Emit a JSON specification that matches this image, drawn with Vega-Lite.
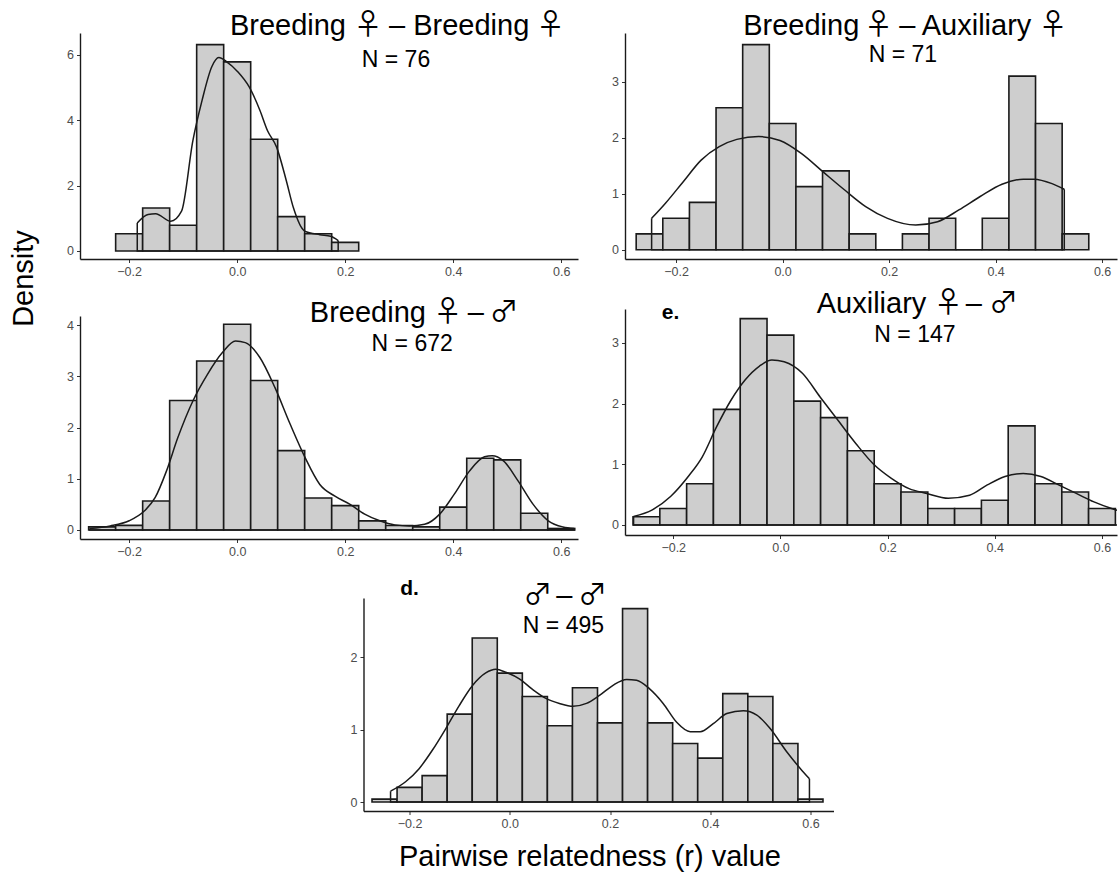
{
"$schema": "https://vega.github.io/schema/vega-lite/v6.json",
"padding": {"left": 9, "top": 12, "right": 2, "bottom": 2},
"background": "white",
"title": {"text": "Density", "orient": "left", "anchor": "middle", "fontSize": 29, "fontWeight": "normal", "font": "Liberation Sans", "color": "#000000", "offset": 28, "dx": 163},
"config": {
  "view": {"stroke": null},
  "font": "Liberation Sans",
  "axis": {"grid": false, "domainColor": "#1a1a1a", "domainWidth": 1.4, "tickColor": "#333333", "tickWidth": 1, "tickSize": 3.5, "labelFont": "Liberation Sans", "labelFontSize": 12.5, "labelColor": "#4d4d4d", "labelPadding": 3, "titleFont": "Liberation Sans", "titleFontSize": 29, "titleFontWeight": "normal", "titleColor": "#000000"}
},
"datasets": {
  "bars": [
    {"panel":"p1","r":-0.225,"r_end":-0.175,"density":0.526},
    {"panel":"p1","r":-0.175,"r_end":-0.125,"density":1.316},
    {"panel":"p1","r":-0.125,"r_end":-0.075,"density":0.789},
    {"panel":"p1","r":-0.075,"r_end":-0.025,"density":6.316},
    {"panel":"p1","r":-0.025,"r_end":0.025,"density":5.789},
    {"panel":"p1","r":0.025,"r_end":0.075,"density":3.421},
    {"panel":"p1","r":0.075,"r_end":0.125,"density":1.053},
    {"panel":"p1","r":0.125,"r_end":0.175,"density":0.526},
    {"panel":"p1","r":0.175,"r_end":0.225,"density":0.263},

    {"panel":"p2","r":-0.275,"r_end":-0.225,"density":0.282},
    {"panel":"p2","r":-0.225,"r_end":-0.175,"density":0.563},
    {"panel":"p2","r":-0.175,"r_end":-0.125,"density":0.845},
    {"panel":"p2","r":-0.125,"r_end":-0.075,"density":2.535},
    {"panel":"p2","r":-0.075,"r_end":-0.025,"density":3.662},
    {"panel":"p2","r":-0.025,"r_end":0.025,"density":2.254},
    {"panel":"p2","r":0.025,"r_end":0.075,"density":1.127},
    {"panel":"p2","r":0.075,"r_end":0.125,"density":1.408},
    {"panel":"p2","r":0.125,"r_end":0.175,"density":0.282},
    {"panel":"p2","r":0.175,"r_end":0.225,"density":0},
    {"panel":"p2","r":0.225,"r_end":0.275,"density":0.282},
    {"panel":"p2","r":0.275,"r_end":0.325,"density":0.563},
    {"panel":"p2","r":0.325,"r_end":0.375,"density":0},
    {"panel":"p2","r":0.375,"r_end":0.425,"density":0.563},
    {"panel":"p2","r":0.425,"r_end":0.475,"density":3.099},
    {"panel":"p2","r":0.475,"r_end":0.525,"density":2.254},
    {"panel":"p2","r":0.525,"r_end":0.575,"density":0.282},

    {"panel":"p3","r":-0.275,"r_end":-0.225,"density":0.06},
    {"panel":"p3","r":-0.225,"r_end":-0.175,"density":0.09},
    {"panel":"p3","r":-0.175,"r_end":-0.125,"density":0.565},
    {"panel":"p3","r":-0.125,"r_end":-0.075,"density":2.53},
    {"panel":"p3","r":-0.075,"r_end":-0.025,"density":3.30},
    {"panel":"p3","r":-0.025,"r_end":0.025,"density":4.02},
    {"panel":"p3","r":0.025,"r_end":0.075,"density":2.92},
    {"panel":"p3","r":0.075,"r_end":0.125,"density":1.55},
    {"panel":"p3","r":0.125,"r_end":0.175,"density":0.625},
    {"panel":"p3","r":0.175,"r_end":0.225,"density":0.476},
    {"panel":"p3","r":0.225,"r_end":0.275,"density":0.179},
    {"panel":"p3","r":0.275,"r_end":0.325,"density":0.089},
    {"panel":"p3","r":0.325,"r_end":0.375,"density":0.06},
    {"panel":"p3","r":0.375,"r_end":0.425,"density":0.446},
    {"panel":"p3","r":0.425,"r_end":0.475,"density":1.40},
    {"panel":"p3","r":0.475,"r_end":0.525,"density":1.37},
    {"panel":"p3","r":0.525,"r_end":0.575,"density":0.327},
    {"panel":"p3","r":0.575,"r_end":0.625,"density":0.03},

    {"panel":"p4","r":-0.275,"r_end":-0.225,"density":0.136},
    {"panel":"p4","r":-0.225,"r_end":-0.175,"density":0.272},
    {"panel":"p4","r":-0.175,"r_end":-0.125,"density":0.680},
    {"panel":"p4","r":-0.125,"r_end":-0.075,"density":1.905},
    {"panel":"p4","r":-0.075,"r_end":-0.025,"density":3.401},
    {"panel":"p4","r":-0.025,"r_end":0.025,"density":3.129},
    {"panel":"p4","r":0.025,"r_end":0.075,"density":2.041},
    {"panel":"p4","r":0.075,"r_end":0.125,"density":1.769},
    {"panel":"p4","r":0.125,"r_end":0.175,"density":1.224},
    {"panel":"p4","r":0.175,"r_end":0.225,"density":0.680},
    {"panel":"p4","r":0.225,"r_end":0.275,"density":0.544},
    {"panel":"p4","r":0.275,"r_end":0.325,"density":0.272},
    {"panel":"p4","r":0.325,"r_end":0.375,"density":0.272},
    {"panel":"p4","r":0.375,"r_end":0.425,"density":0.408},
    {"panel":"p4","r":0.425,"r_end":0.475,"density":1.633},
    {"panel":"p4","r":0.475,"r_end":0.525,"density":0.680},
    {"panel":"p4","r":0.525,"r_end":0.575,"density":0.544},
    {"panel":"p4","r":0.575,"r_end":0.625,"density":0.272},

    {"panel":"p5","r":-0.275,"r_end":-0.225,"density":0.04},
    {"panel":"p5","r":-0.225,"r_end":-0.175,"density":0.202},
    {"panel":"p5","r":-0.175,"r_end":-0.125,"density":0.364},
    {"panel":"p5","r":-0.125,"r_end":-0.075,"density":1.212},
    {"panel":"p5","r":-0.075,"r_end":-0.025,"density":2.263},
    {"panel":"p5","r":-0.025,"r_end":0.025,"density":1.778},
    {"panel":"p5","r":0.025,"r_end":0.075,"density":1.455},
    {"panel":"p5","r":0.075,"r_end":0.125,"density":1.051},
    {"panel":"p5","r":0.125,"r_end":0.175,"density":1.576},
    {"panel":"p5","r":0.175,"r_end":0.225,"density":1.091},
    {"panel":"p5","r":0.225,"r_end":0.275,"density":2.667},
    {"panel":"p5","r":0.275,"r_end":0.325,"density":1.091},
    {"panel":"p5","r":0.325,"r_end":0.375,"density":0.808},
    {"panel":"p5","r":0.375,"r_end":0.425,"density":0.606},
    {"panel":"p5","r":0.425,"r_end":0.475,"density":1.495},
    {"panel":"p5","r":0.475,"r_end":0.525,"density":1.455},
    {"panel":"p5","r":0.525,"r_end":0.575,"density":0.808},
    {"panel":"p5","r":0.575,"r_end":0.625,"density":0.04}
  ],
  "curves": [
    {"panel":"p1","part":"outline","i":0,"r":-0.185,"density":0.86},
    {"panel":"p1","part":"outline","i":1,"r":-0.185,"density":0},
    {"panel":"p1","part":"outline","i":2,"r":0.187,"density":0},
    {"panel":"p1","part":"outline","i":3,"r":0.187,"density":0.32},
    {"panel":"p1","part":"curve","i":0,"r":-0.185,"density":0.86},
    {"panel":"p1","part":"curve","i":1,"r":-0.165,"density":1.12},
    {"panel":"p1","part":"curve","i":2,"r":-0.151,"density":1.14},
    {"panel":"p1","part":"curve","i":3,"r":-0.123,"density":0.91},
    {"panel":"p1","part":"curve","i":4,"r":-0.103,"density":1.22},
    {"panel":"p1","part":"curve","i":5,"r":-0.082,"density":3.38},
    {"panel":"p1","part":"curve","i":6,"r":-0.065,"density":4.61},
    {"panel":"p1","part":"curve","i":7,"r":-0.047,"density":5.64},
    {"panel":"p1","part":"curve","i":8,"r":-0.034,"density":5.92},
    {"panel":"p1","part":"curve","i":9,"r":-0.020,"density":5.80},
    {"panel":"p1","part":"curve","i":10,"r":0.001,"density":5.49},
    {"panel":"p1","part":"curve","i":11,"r":0.022,"density":5.03},
    {"panel":"p1","part":"curve","i":12,"r":0.042,"density":4.31},
    {"panel":"p1","part":"curve","i":13,"r":0.056,"density":3.69},
    {"panel":"p1","part":"curve","i":14,"r":0.073,"density":3.18},
    {"panel":"p1","part":"curve","i":15,"r":0.091,"density":2.15},
    {"panel":"p1","part":"curve","i":16,"r":0.104,"density":1.33},
    {"panel":"p1","part":"curve","i":17,"r":0.125,"density":0.61},
    {"panel":"p1","part":"curve","i":18,"r":0.153,"density":0.50},
    {"panel":"p1","part":"curve","i":19,"r":0.173,"density":0.45},
    {"panel":"p1","part":"curve","i":20,"r":0.187,"density":0.32},

    {"panel":"p2","part":"outline","i":0,"r":-0.246,"density":0.56},
    {"panel":"p2","part":"outline","i":1,"r":-0.246,"density":0},
    {"panel":"p2","part":"outline","i":2,"r":0.529,"density":0},
    {"panel":"p2","part":"outline","i":3,"r":0.529,"density":1.08},
    {"panel":"p2","part":"curve","i":0,"r":-0.246,"density":0.56},
    {"panel":"p2","part":"curve","i":1,"r":-0.220,"density":0.83},
    {"panel":"p2","part":"curve","i":2,"r":-0.187,"density":1.21},
    {"panel":"p2","part":"curve","i":3,"r":-0.153,"density":1.60},
    {"panel":"p2","part":"curve","i":4,"r":-0.119,"density":1.84},
    {"panel":"p2","part":"curve","i":5,"r":-0.086,"density":1.97},
    {"panel":"p2","part":"curve","i":6,"r":-0.045,"density":2.02},
    {"panel":"p2","part":"curve","i":7,"r":-0.005,"density":1.95},
    {"panel":"p2","part":"curve","i":8,"r":0.035,"density":1.72},
    {"panel":"p2","part":"curve","i":9,"r":0.076,"density":1.39},
    {"panel":"p2","part":"curve","i":10,"r":0.116,"density":1.07},
    {"panel":"p2","part":"curve","i":11,"r":0.156,"density":0.77},
    {"panel":"p2","part":"curve","i":12,"r":0.197,"density":0.56},
    {"panel":"p2","part":"curve","i":13,"r":0.250,"density":0.44},
    {"panel":"p2","part":"curve","i":14,"r":0.291,"density":0.50},
    {"panel":"p2","part":"curve","i":15,"r":0.331,"density":0.71},
    {"panel":"p2","part":"curve","i":16,"r":0.371,"density":0.95},
    {"panel":"p2","part":"curve","i":17,"r":0.412,"density":1.17},
    {"panel":"p2","part":"curve","i":18,"r":0.452,"density":1.26},
    {"panel":"p2","part":"curve","i":19,"r":0.472,"density":1.26},
    {"panel":"p2","part":"curve","i":20,"r":0.506,"density":1.18},
    {"panel":"p2","part":"curve","i":21,"r":0.529,"density":1.08},

    {"panel":"p3","part":"outline","i":0,"r":-0.273,"density":0.03},
    {"panel":"p3","part":"outline","i":1,"r":-0.273,"density":0},
    {"panel":"p3","part":"outline","i":2,"r":0.624,"density":0},
    {"panel":"p3","part":"outline","i":3,"r":0.624,"density":0.03},
    {"panel":"p3","part":"curve","i":0,"r":-0.273,"density":0.03},
    {"panel":"p3","part":"curve","i":1,"r":-0.235,"density":0.08},
    {"panel":"p3","part":"curve","i":2,"r":-0.200,"density":0.18},
    {"panel":"p3","part":"curve","i":3,"r":-0.172,"density":0.37},
    {"panel":"p3","part":"curve","i":4,"r":-0.152,"density":0.63},
    {"panel":"p3","part":"curve","i":5,"r":-0.131,"density":1.15},
    {"panel":"p3","part":"curve","i":6,"r":-0.110,"density":1.80},
    {"panel":"p3","part":"curve","i":7,"r":-0.082,"density":2.52},
    {"panel":"p3","part":"curve","i":8,"r":-0.055,"density":3.04},
    {"panel":"p3","part":"curve","i":9,"r":-0.027,"density":3.47},
    {"panel":"p3","part":"curve","i":10,"r":-0.003,"density":3.69},
    {"panel":"p3","part":"curve","i":11,"r":0.015,"density":3.66},
    {"panel":"p3","part":"curve","i":12,"r":0.042,"density":3.37},
    {"panel":"p3","part":"curve","i":13,"r":0.070,"density":2.78},
    {"panel":"p3","part":"curve","i":14,"r":0.098,"density":2.07},
    {"panel":"p3","part":"curve","i":15,"r":0.126,"density":1.41},
    {"panel":"p3","part":"curve","i":16,"r":0.153,"density":0.89},
    {"panel":"p3","part":"curve","i":17,"r":0.181,"density":0.66},
    {"panel":"p3","part":"curve","i":18,"r":0.209,"density":0.50},
    {"panel":"p3","part":"curve","i":19,"r":0.236,"density":0.31},
    {"panel":"p3","part":"curve","i":20,"r":0.264,"density":0.18},
    {"panel":"p3","part":"curve","i":21,"r":0.292,"density":0.10},
    {"panel":"p3","part":"curve","i":22,"r":0.319,"density":0.08},
    {"panel":"p3","part":"curve","i":23,"r":0.347,"density":0.11},
    {"panel":"p3","part":"curve","i":24,"r":0.375,"density":0.31},
    {"panel":"p3","part":"curve","i":25,"r":0.402,"density":0.70},
    {"panel":"p3","part":"curve","i":26,"r":0.430,"density":1.15},
    {"panel":"p3","part":"curve","i":27,"r":0.458,"density":1.43},
    {"panel":"p3","part":"curve","i":28,"r":0.472,"density":1.45},
    {"panel":"p3","part":"curve","i":29,"r":0.493,"density":1.35},
    {"panel":"p3","part":"curve","i":30,"r":0.520,"density":0.96},
    {"panel":"p3","part":"curve","i":31,"r":0.548,"density":0.50},
    {"panel":"p3","part":"curve","i":32,"r":0.576,"density":0.18},
    {"panel":"p3","part":"curve","i":33,"r":0.603,"density":0.06},
    {"panel":"p3","part":"curve","i":34,"r":0.624,"density":0.03},

    {"panel":"p4","part":"outline","i":0,"r":-0.274,"density":0.14},
    {"panel":"p4","part":"outline","i":1,"r":-0.274,"density":0},
    {"panel":"p4","part":"outline","i":2,"r":0.660,"density":0},
    {"panel":"p4","part":"outline","i":3,"r":0.660,"density":0.17},
    {"panel":"p4","part":"curve","i":0,"r":-0.274,"density":0.14},
    {"panel":"p4","part":"curve","i":1,"r":-0.239,"density":0.25},
    {"panel":"p4","part":"curve","i":2,"r":-0.205,"density":0.47},
    {"panel":"p4","part":"curve","i":3,"r":-0.172,"density":0.80},
    {"panel":"p4","part":"curve","i":4,"r":-0.146,"density":1.12},
    {"panel":"p4","part":"curve","i":5,"r":-0.119,"density":1.62},
    {"panel":"p4","part":"curve","i":6,"r":-0.092,"density":2.06},
    {"panel":"p4","part":"curve","i":7,"r":-0.066,"density":2.39},
    {"panel":"p4","part":"curve","i":8,"r":-0.039,"density":2.62},
    {"panel":"p4","part":"curve","i":9,"r":-0.016,"density":2.72},
    {"panel":"p4","part":"curve","i":10,"r":0.007,"density":2.69},
    {"panel":"p4","part":"curve","i":11,"r":0.041,"density":2.50},
    {"panel":"p4","part":"curve","i":12,"r":0.074,"density":2.11},
    {"panel":"p4","part":"curve","i":13,"r":0.107,"density":1.73},
    {"panel":"p4","part":"curve","i":14,"r":0.141,"density":1.34},
    {"panel":"p4","part":"curve","i":15,"r":0.173,"density":1.01},
    {"panel":"p4","part":"curve","i":16,"r":0.207,"density":0.77},
    {"panel":"p4","part":"curve","i":17,"r":0.240,"density":0.60},
    {"panel":"p4","part":"curve","i":18,"r":0.273,"density":0.52},
    {"panel":"p4","part":"curve","i":19,"r":0.313,"density":0.44},
    {"panel":"p4","part":"curve","i":20,"r":0.353,"density":0.49},
    {"panel":"p4","part":"curve","i":21,"r":0.386,"density":0.66},
    {"panel":"p4","part":"curve","i":22,"r":0.419,"density":0.80},
    {"panel":"p4","part":"curve","i":23,"r":0.453,"density":0.85},
    {"panel":"p4","part":"curve","i":24,"r":0.486,"density":0.80},
    {"panel":"p4","part":"curve","i":25,"r":0.519,"density":0.66},
    {"panel":"p4","part":"curve","i":26,"r":0.552,"density":0.52},
    {"panel":"p4","part":"curve","i":27,"r":0.585,"density":0.38},
    {"panel":"p4","part":"curve","i":28,"r":0.625,"density":0.25},
    {"panel":"p4","part":"curve","i":29,"r":0.660,"density":0.17},

    {"panel":"p5","part":"outline","i":0,"r":-0.238,"density":0.15},
    {"panel":"p5","part":"outline","i":1,"r":-0.238,"density":0},
    {"panel":"p5","part":"outline","i":2,"r":0.598,"density":0},
    {"panel":"p5","part":"outline","i":3,"r":0.598,"density":0.32},
    {"panel":"p5","part":"curve","i":0,"r":-0.238,"density":0.15},
    {"panel":"p5","part":"curve","i":1,"r":-0.208,"density":0.28},
    {"panel":"p5","part":"curve","i":2,"r":-0.181,"density":0.46},
    {"panel":"p5","part":"curve","i":3,"r":-0.155,"density":0.71},
    {"panel":"p5","part":"curve","i":4,"r":-0.128,"density":1.01},
    {"panel":"p5","part":"curve","i":5,"r":-0.101,"density":1.33},
    {"panel":"p5","part":"curve","i":6,"r":-0.074,"density":1.61},
    {"panel":"p5","part":"curve","i":7,"r":-0.048,"density":1.78},
    {"panel":"p5","part":"curve","i":8,"r":-0.028,"density":1.83},
    {"panel":"p5","part":"curve","i":9,"r":-0.008,"density":1.79},
    {"panel":"p5","part":"curve","i":10,"r":0.019,"density":1.70},
    {"panel":"p5","part":"curve","i":11,"r":0.046,"density":1.55},
    {"panel":"p5","part":"curve","i":12,"r":0.072,"density":1.43},
    {"panel":"p5","part":"curve","i":13,"r":0.099,"density":1.36},
    {"panel":"p5","part":"curve","i":14,"r":0.126,"density":1.32},
    {"panel":"p5","part":"curve","i":15,"r":0.153,"density":1.36},
    {"panel":"p5","part":"curve","i":16,"r":0.179,"density":1.47},
    {"panel":"p5","part":"curve","i":17,"r":0.206,"density":1.61},
    {"panel":"p5","part":"curve","i":18,"r":0.233,"density":1.69},
    {"panel":"p5","part":"curve","i":19,"r":0.253,"density":1.68},
    {"panel":"p5","part":"curve","i":20,"r":0.279,"density":1.56},
    {"panel":"p5","part":"curve","i":21,"r":0.306,"density":1.36},
    {"panel":"p5","part":"curve","i":22,"r":0.333,"density":1.10},
    {"panel":"p5","part":"curve","i":23,"r":0.360,"density":0.97},
    {"panel":"p5","part":"curve","i":24,"r":0.380,"density":0.97},
    {"panel":"p5","part":"curve","i":25,"r":0.406,"density":1.08},
    {"panel":"p5","part":"curve","i":26,"r":0.433,"density":1.22},
    {"panel":"p5","part":"curve","i":27,"r":0.466,"density":1.26},
    {"panel":"p5","part":"curve","i":28,"r":0.493,"density":1.20},
    {"panel":"p5","part":"curve","i":29,"r":0.520,"density":1.01},
    {"panel":"p5","part":"curve","i":30,"r":0.553,"density":0.69},
    {"panel":"p5","part":"curve","i":31,"r":0.580,"density":0.46},
    {"panel":"p5","part":"curve","i":32,"r":0.598,"density":0.32}
  ],
  "labels": [
    {"panel":"p1","kind":"title","r":0.094,"density":6.61,"label":"Breeding"},
    {"panel":"p1","kind":"sym","r":0.242,"density":6.61,"label":"♀"},
    {"panel":"p1","kind":"title","r":0.411,"density":6.61,"label":"– Breeding"},
    {"panel":"p1","kind":"sym","r":0.580,"density":6.61,"label":"♀"},
    {"panel":"p1","kind":"n","r":0.294,"density":5.64,"label":"N = 76"},
    {"panel":"p2","kind":"title","r":0.035,"density":3.83,"label":"Breeding"},
    {"panel":"p2","kind":"sym","r":0.180,"density":3.83,"label":"♀"},
    {"panel":"p2","kind":"title","r":0.343,"density":3.83,"label":"– Auxiliary"},
    {"panel":"p2","kind":"sym","r":0.508,"density":3.83,"label":"♀"},
    {"panel":"p2","kind":"n","r":0.226,"density":3.36,"label":"N = 71"},
    {"panel":"p3","kind":"title","r":0.242,"density":4.07,"label":"Breeding"},
    {"panel":"p3","kind":"sym","r":0.390,"density":4.07,"label":"♀"},
    {"panel":"p3","kind":"title","r":0.442,"density":4.07,"label":"–"},
    {"panel":"p3","kind":"sym","r":0.494,"density":4.07,"label":"♂"},
    {"panel":"p3","kind":"n","r":0.324,"density":3.50,"label":"N = 672"},
    {"panel":"p4","kind":"title","r":0.170,"density":3.49,"label":"Auxiliary"},
    {"panel":"p4","kind":"sym","r":0.313,"density":3.49,"label":"♀"},
    {"panel":"p4","kind":"title","r":0.361,"density":3.49,"label":"–"},
    {"panel":"p4","kind":"sym","r":0.416,"density":3.49,"label":"♂"},
    {"panel":"p4","kind":"n","r":0.251,"density":3.01,"label":"N = 147"},
    {"panel":"p4","kind":"tag","r":-0.205,"density":3.39,"label":"e."},
    {"panel":"p5","kind":"sym","r":0.056,"density":2.72,"label":"♂"},
    {"panel":"p5","kind":"title","r":0.109,"density":2.72,"label":"–"},
    {"panel":"p5","kind":"sym","r":0.165,"density":2.72,"label":"♂"},
    {"panel":"p5","kind":"n","r":0.107,"density":2.33,"label":"N = 495"},
    {"panel":"p5","kind":"tag","r":-0.2,"density":2.86,"label":"d."}
  ]
},
"vconcat": [
  {"hconcat": [
    {"vconcat": [
      {
        "width": 498, "height": 226,
        "encoding": {
          "x": {"field":"r","type":"quantitative","scale":{"domain":[-0.291,0.631],"nice":false,"zero":false},"axis":{"values":[-0.2,0,0.2,0.4,0.6],"format":".1f","title":null}},
          "y": {"field":"density","type":"quantitative","scale":{"domain":[-0.245,6.673],"nice":false,"zero":false},"axis":{"values":[0,2,4,6],"format":"d","title":null}}
        },
        "layer": [
          {"data":{"name":"bars"},"transform":[{"filter":"datum.panel === 'p1'"}],"mark":{"type":"rect","fill":"#cecece","stroke":"#1a1a1a","strokeWidth":1.6},"encoding":{"x2":{"field":"r_end"},"y2":{"datum":0}}},
          {"data":{"name":"curves"},"transform":[{"filter":"datum.panel === 'p1' && datum.part === 'outline'"}],"mark":{"type":"line","color":"#1a1a1a","strokeWidth":1.5,"clip":true},"encoding":{"order":{"field":"i","type":"quantitative"}}},
          {"data":{"name":"curves"},"transform":[{"filter":"datum.panel === 'p1' && datum.part === 'curve'"}],"mark":{"type":"line","color":"#1a1a1a","strokeWidth":1.5,"clip":true,"interpolate":"monotone"},"encoding":{"order":{"field":"i","type":"quantitative"}}},
          {"data":{"name":"labels"},"transform":[{"filter":"datum.panel === 'p1' && datum.kind === 'title'"}],"mark":{"type":"text","fontSize":29,"font":"Liberation Sans","align":"center","baseline":"alphabetic","color":"#000000"},"encoding":{"text":{"field":"label"}}},
          {"data":{"name":"labels"},"transform":[{"filter":"datum.panel === 'p1' && datum.kind === 'sym'"}],"mark":{"type":"text","fontSize":29,"font":"Noto Sans CJK JP","align":"center","baseline":"alphabetic","color":"#000000"},"encoding":{"text":{"field":"label"}}},
          {"data":{"name":"labels"},"transform":[{"filter":"datum.panel === 'p1' && datum.kind === 'n'"}],"mark":{"type":"text","fontSize":23,"font":"Liberation Sans","align":"center","baseline":"alphabetic","color":"#000000"},"encoding":{"text":{"field":"label"}}}
        ]
      },
      {
        "width": 498, "height": 223,
        "encoding": {
          "x": {"field":"r","type":"quantitative","scale":{"domain":[-0.291,0.631],"nice":false,"zero":false},"axis":{"values":[-0.2,0,0.2,0.4,0.6],"format":".1f","title":null}},
          "y": {"field":"density","type":"quantitative","scale":{"domain":[-0.176,4.18],"nice":false,"zero":false},"axis":{"values":[0,1,2,3,4],"format":"d","title":null}}
        },
        "layer": [
          {"data":{"name":"bars"},"transform":[{"filter":"datum.panel === 'p3'"}],"mark":{"type":"rect","fill":"#cecece","stroke":"#1a1a1a","strokeWidth":1.6},"encoding":{"x2":{"field":"r_end"},"y2":{"datum":0}}},
          {"data":{"name":"curves"},"transform":[{"filter":"datum.panel === 'p3' && datum.part === 'outline'"}],"mark":{"type":"line","color":"#1a1a1a","strokeWidth":1.5,"clip":true},"encoding":{"order":{"field":"i","type":"quantitative"}}},
          {"data":{"name":"curves"},"transform":[{"filter":"datum.panel === 'p3' && datum.part === 'curve'"}],"mark":{"type":"line","color":"#1a1a1a","strokeWidth":1.5,"clip":true,"interpolate":"monotone"},"encoding":{"order":{"field":"i","type":"quantitative"}}},
          {"data":{"name":"labels"},"transform":[{"filter":"datum.panel === 'p3' && datum.kind === 'title'"}],"mark":{"type":"text","fontSize":29,"font":"Liberation Sans","align":"center","baseline":"alphabetic","color":"#000000"},"encoding":{"text":{"field":"label"}}},
          {"data":{"name":"labels"},"transform":[{"filter":"datum.panel === 'p3' && datum.kind === 'sym'"}],"mark":{"type":"text","fontSize":29,"font":"Noto Sans CJK JP","align":"center","baseline":"alphabetic","color":"#000000"},"encoding":{"text":{"field":"label"}}},
          {"data":{"name":"labels"},"transform":[{"filter":"datum.panel === 'p3' && datum.kind === 'n'"}],"mark":{"type":"text","fontSize":23,"font":"Liberation Sans","align":"center","baseline":"alphabetic","color":"#000000"},"encoding":{"text":{"field":"label"}}}
        ]
      }
    ], "spacing": 20},
    {"vconcat": [
      {
        "width": 492, "height": 226,
        "encoding": {
          "x": {"field":"r","type":"quantitative","scale":{"domain":[-0.296,0.628],"nice":false,"zero":false},"axis":{"values":[-0.2,0,0.2,0.4,0.6],"format":".1f","title":null}},
          "y": {"field":"density","type":"quantitative","scale":{"domain":[-0.166,3.87],"nice":false,"zero":false},"axis":{"values":[0,1,2,3],"format":"d","title":null}}
        },
        "layer": [
          {"data":{"name":"bars"},"transform":[{"filter":"datum.panel === 'p2'"}],"mark":{"type":"rect","fill":"#cecece","stroke":"#1a1a1a","strokeWidth":1.6},"encoding":{"x2":{"field":"r_end"},"y2":{"datum":0}}},
          {"data":{"name":"curves"},"transform":[{"filter":"datum.panel === 'p2' && datum.part === 'outline'"}],"mark":{"type":"line","color":"#1a1a1a","strokeWidth":1.5,"clip":true},"encoding":{"order":{"field":"i","type":"quantitative"}}},
          {"data":{"name":"curves"},"transform":[{"filter":"datum.panel === 'p2' && datum.part === 'curve'"}],"mark":{"type":"line","color":"#1a1a1a","strokeWidth":1.5,"clip":true,"interpolate":"monotone"},"encoding":{"order":{"field":"i","type":"quantitative"}}},
          {"data":{"name":"labels"},"transform":[{"filter":"datum.panel === 'p2' && datum.kind === 'title'"}],"mark":{"type":"text","fontSize":29,"font":"Liberation Sans","align":"center","baseline":"alphabetic","color":"#000000"},"encoding":{"text":{"field":"label"}}},
          {"data":{"name":"labels"},"transform":[{"filter":"datum.panel === 'p2' && datum.kind === 'sym'"}],"mark":{"type":"text","fontSize":29,"font":"Noto Sans CJK JP","align":"center","baseline":"alphabetic","color":"#000000"},"encoding":{"text":{"field":"label"}}},
          {"data":{"name":"labels"},"transform":[{"filter":"datum.panel === 'p2' && datum.kind === 'n'"}],"mark":{"type":"text","fontSize":23,"font":"Liberation Sans","align":"center","baseline":"alphabetic","color":"#000000"},"encoding":{"text":{"field":"label"}}}
        ]
      },
      {
        "width": 492, "height": 226,
        "encoding": {
          "x": {"field":"r","type":"quantitative","scale":{"domain":[-0.29,0.628],"nice":false,"zero":false},"axis":{"values":[-0.2,0,0.2,0.4,0.6],"format":".1f","title":null}},
          "y": {"field":"density","type":"quantitative","scale":{"domain":[-0.165,3.56],"nice":false,"zero":false},"axis":{"values":[0,1,2,3],"format":"d","title":null}}
        },
        "layer": [
          {"data":{"name":"bars"},"transform":[{"filter":"datum.panel === 'p4'"}],"mark":{"type":"rect","fill":"#cecece","stroke":"#1a1a1a","strokeWidth":1.6},"encoding":{"x2":{"field":"r_end"},"y2":{"datum":0}}},
          {"data":{"name":"curves"},"transform":[{"filter":"datum.panel === 'p4' && datum.part === 'outline'"}],"mark":{"type":"line","color":"#1a1a1a","strokeWidth":1.5,"clip":true},"encoding":{"order":{"field":"i","type":"quantitative"}}},
          {"data":{"name":"curves"},"transform":[{"filter":"datum.panel === 'p4' && datum.part === 'curve'"}],"mark":{"type":"line","color":"#1a1a1a","strokeWidth":1.5,"clip":true,"interpolate":"monotone"},"encoding":{"order":{"field":"i","type":"quantitative"}}},
          {"data":{"name":"labels"},"transform":[{"filter":"datum.panel === 'p4' && datum.kind === 'title'"}],"mark":{"type":"text","fontSize":29,"font":"Liberation Sans","align":"center","baseline":"alphabetic","color":"#000000"},"encoding":{"text":{"field":"label"}}},
          {"data":{"name":"labels"},"transform":[{"filter":"datum.panel === 'p4' && datum.kind === 'sym'"}],"mark":{"type":"text","fontSize":29,"font":"Noto Sans CJK JP","align":"center","baseline":"alphabetic","color":"#000000"},"encoding":{"text":{"field":"label"}}},
          {"data":{"name":"labels"},"transform":[{"filter":"datum.panel === 'p4' && datum.kind === 'n'"}],"mark":{"type":"text","fontSize":23,"font":"Liberation Sans","align":"center","baseline":"alphabetic","color":"#000000"},"encoding":{"text":{"field":"label"}}},
          {"data":{"name":"labels"},"transform":[{"filter":"datum.panel === 'p4' && datum.kind === 'tag'"}],"mark":{"type":"text","fontSize":21,"fontWeight":"bold","font":"Liberation Sans","align":"center","baseline":"alphabetic","color":"#000000"},"encoding":{"text":{"field":"label"}}}
        ]
      }
    ], "spacing": 12}
  ], "spacing": 33},
  {
    "width": 470, "height": 213,
    "encoding": {
      "x": {"field":"r","type":"quantitative","scale":{"domain":[-0.292,0.646],"nice":false,"zero":false},"axis":{"values":[-0.2,0,0.2,0.4,0.6],"format":".1f","title":"Pairwise relatedness (r) value","titlePadding":12,"titleX":226}},
      "y": {"field":"density","type":"quantitative","scale":{"domain":[-0.124,2.814],"nice":false,"zero":false},"axis":{"values":[0,1,2],"format":"d","title":null}}
    },
    "layer": [
      {"data":{"name":"bars"},"transform":[{"filter":"datum.panel === 'p5'"}],"mark":{"type":"rect","fill":"#cecece","stroke":"#1a1a1a","strokeWidth":1.6},"encoding":{"x2":{"field":"r_end"},"y2":{"datum":0}}},
      {"data":{"name":"curves"},"transform":[{"filter":"datum.panel === 'p5' && datum.part === 'outline'"}],"mark":{"type":"line","color":"#1a1a1a","strokeWidth":1.5,"clip":true},"encoding":{"order":{"field":"i","type":"quantitative"}}},
      {"data":{"name":"curves"},"transform":[{"filter":"datum.panel === 'p5' && datum.part === 'curve'"}],"mark":{"type":"line","color":"#1a1a1a","strokeWidth":1.5,"clip":true,"interpolate":"monotone"},"encoding":{"order":{"field":"i","type":"quantitative"}}},
      {"data":{"name":"labels"},"transform":[{"filter":"datum.panel === 'p5' && datum.kind === 'title'"}],"mark":{"type":"text","fontSize":29,"font":"Liberation Sans","align":"center","baseline":"alphabetic","color":"#000000"},"encoding":{"text":{"field":"label"}}},
      {"data":{"name":"labels"},"transform":[{"filter":"datum.panel === 'p5' && datum.kind === 'sym'"}],"mark":{"type":"text","fontSize":29,"font":"Noto Sans CJK JP","align":"center","baseline":"alphabetic","color":"#000000"},"encoding":{"text":{"field":"label"}}},
      {"data":{"name":"labels"},"transform":[{"filter":"datum.panel === 'p5' && datum.kind === 'n'"}],"mark":{"type":"text","fontSize":23,"font":"Liberation Sans","align":"center","baseline":"alphabetic","color":"#000000"},"encoding":{"text":{"field":"label"}}},
      {"data":{"name":"labels"},"transform":[{"filter":"datum.panel === 'p5' && datum.kind === 'tag'"}],"mark":{"type":"text","fontSize":21,"fontWeight":"bold","font":"Liberation Sans","align":"center","baseline":"alphabetic","color":"#000000"},"encoding":{"text":{"field":"label"}}}
    ]
  }
],
"spacing": 19, "center": true
}
